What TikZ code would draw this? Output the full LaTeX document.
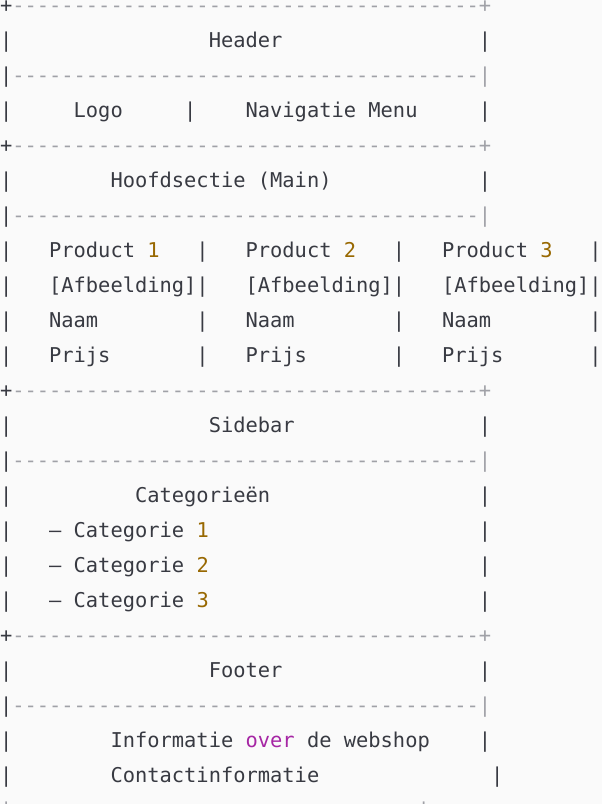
\documentclass[tikz,border=0pt]{standalone}
\usepackage{fontspec}
\setmonofont{DejaVu Sans Mono}
\definecolor{bg}{HTML}{FAFAFA}
\definecolor{txt}{HTML}{383A42}
\definecolor{cmt}{HTML}{A0A1A7}
\definecolor{num}{HTML}{986801}
\definecolor{kw}{HTML}{A626A4}
\def\cw{12.28}
\def\D{----------------------------------------------------------------------------------------------}
\def\Dash{--------------------------------------}
\newcommand{\nm}[1]{\textcolor{num}{#1}}
\begin{document}
\begin{tikzpicture}[x=1pt,y=-1pt,
  t/.style={anchor=base west,inner sep=0pt,outer sep=0pt,font=\ttfamily\fontsize{20.4}{24}\selectfont,text=txt},
  g/.style={t,text=cmt}]
\fill[bg] (0,0) rectangle (602,804);
\useasboundingbox (0,0) rectangle (602,804);
\begin{scope}
\clip (0,0) rectangle (602,804);
% line 1
\node[t] (p1) at (0,12) {+};
\node[g] (d1) at ({1*\cw},12) {\Dash+};
% Header
\node[t] (h0) at (0,47) {|};
\node[t] (hh) at ({17*\cw},47) {Header};
\node[t] (h1) at ({39*\cw},47) {|};
\node[t] (p3) at (0,82) {|};
\node[g] (d3) at ({1*\cw},82) {\Dash|};
% Logo / Menu
\node[t] (l0) at (0,117) {|};
\node[t] (lg) at ({6*\cw},117) {Logo};
\node[t] (l1) at ({15*\cw},117) {|};
\node[t] (nv) at ({20*\cw},117) {Navigatie Menu};
\node[t] (l2) at ({39*\cw},117) {|};
% +
\node[t] (p5) at (0,152) {+};
\node[g] (d5) at ({1*\cw},152) {\Dash+};
% Main
\node[t] (m0) at (0,187) {|};
\node[t] (mm) at ({9*\cw},187) {Hoofdsectie (Main)};
\node[t] (m1) at ({39*\cw},187) {|};
\node[t] (p7) at (0,222) {|};
\node[g] (d7) at ({1*\cw},222) {\Dash|};
% products
\node[t] (a0) at (0,257) {|};
\node[t] (a1) at ({4*\cw},257) {Product \nm{1}};
\node[t] (a2) at ({16*\cw},257) {|};
\node[t] (a3) at ({20*\cw},257) {Product \nm{2}};
\node[t] (a4) at ({32*\cw},257) {|};
\node[t] (a5) at ({36*\cw},257) {Product \nm{3}};
\node[t] (a6) at ({48*\cw},257) {|};
\node[t] (b0) at (0,292) {|};
\node[t] (b1) at ({4*\cw},292) {[Afbeelding]|};
\node[t] (b3) at ({20*\cw},292) {[Afbeelding]|};
\node[t] (b5) at ({36*\cw},292) {[Afbeelding]|};
\node[t] (c0) at (0,327) {|};
\node[t] (c1) at ({4*\cw},327) {Naam};
\node[t] (c2) at ({16*\cw},327) {|};
\node[t] (c3) at ({20*\cw},327) {Naam};
\node[t] (c4) at ({32*\cw},327) {|};
\node[t] (c5) at ({36*\cw},327) {Naam};
\node[t] (c6) at ({48*\cw},327) {|};
\node[t] (e0) at (0,362) {|};
\node[t] (e1) at ({4*\cw},362) {Prijs};
\node[t] (e2) at ({16*\cw},362) {|};
\node[t] (e3) at ({20*\cw},362) {Prijs};
\node[t] (e4) at ({32*\cw},362) {|};
\node[t] (e5) at ({36*\cw},362) {Prijs};
\node[t] (e6) at ({48*\cw},362) {|};
% +
\node[t] (p12) at (0,397) {+};
\node[g] (d12) at ({1*\cw},397) {\Dash+};
% Sidebar
\node[t] (s0) at (0,432) {|};
\node[t] (ss) at ({17*\cw},432) {Sidebar};
\node[t] (s1) at ({39*\cw},432) {|};
\node[t] (p14) at (0,467) {|};
\node[g] (d14) at ({1*\cw},467) {\Dash|};
\node[t] (k0) at (0,502) {|};
\node[t] (kk) at ({11*\cw},502) {Categorieën};
\node[t] (k1) at ({39*\cw},502) {|};
\node[t] (q0) at (0,537) {|};
\node[t] (q1) at ({4*\cw},537) {– Categorie \nm{1}};
\node[t] (q2) at ({39*\cw},537) {|};
\node[t] (r0) at (0,572) {|};
\node[t] (r1) at ({4*\cw},572) {– Categorie \nm{2}};
\node[t] (r2) at ({39*\cw},572) {|};
\node[t] (u0) at (0,607) {|};
\node[t] (u1) at ({4*\cw},607) {– Categorie \nm{3}};
\node[t] (u2) at ({39*\cw},607) {|};
% +
\node[t] (p19) at (0,642) {+};
\node[g] (d19) at ({1*\cw},642) {\Dash+};
% Footer
\node[t] (f0) at (0,677) {|};
\node[t] (ff) at ({17*\cw},677) {Footer};
\node[t] (f1) at ({39*\cw},677) {|};
\node[t] (p21) at (0,712) {|};
\node[g] (d21) at ({1*\cw},712) {\Dash|};
\node[t] (i0) at (0,747) {|};
\node[t] (ii) at ({9*\cw},747) {Informatie \textcolor{kw}{over} de webshop};
\node[t] (i1) at ({39*\cw},747) {|};
\node[t] (j0) at (0,782) {|};
\node[t] (jj) at ({9*\cw},782) {Contactinformatie};
\node[t] (j1) at ({40*\cw},782) {|};
\node[g] (z0) at (0,817) {|};
\node[g] (z1) at ({34*\cw},817) {|};
\end{scope}
\end{tikzpicture}
\end{document}
